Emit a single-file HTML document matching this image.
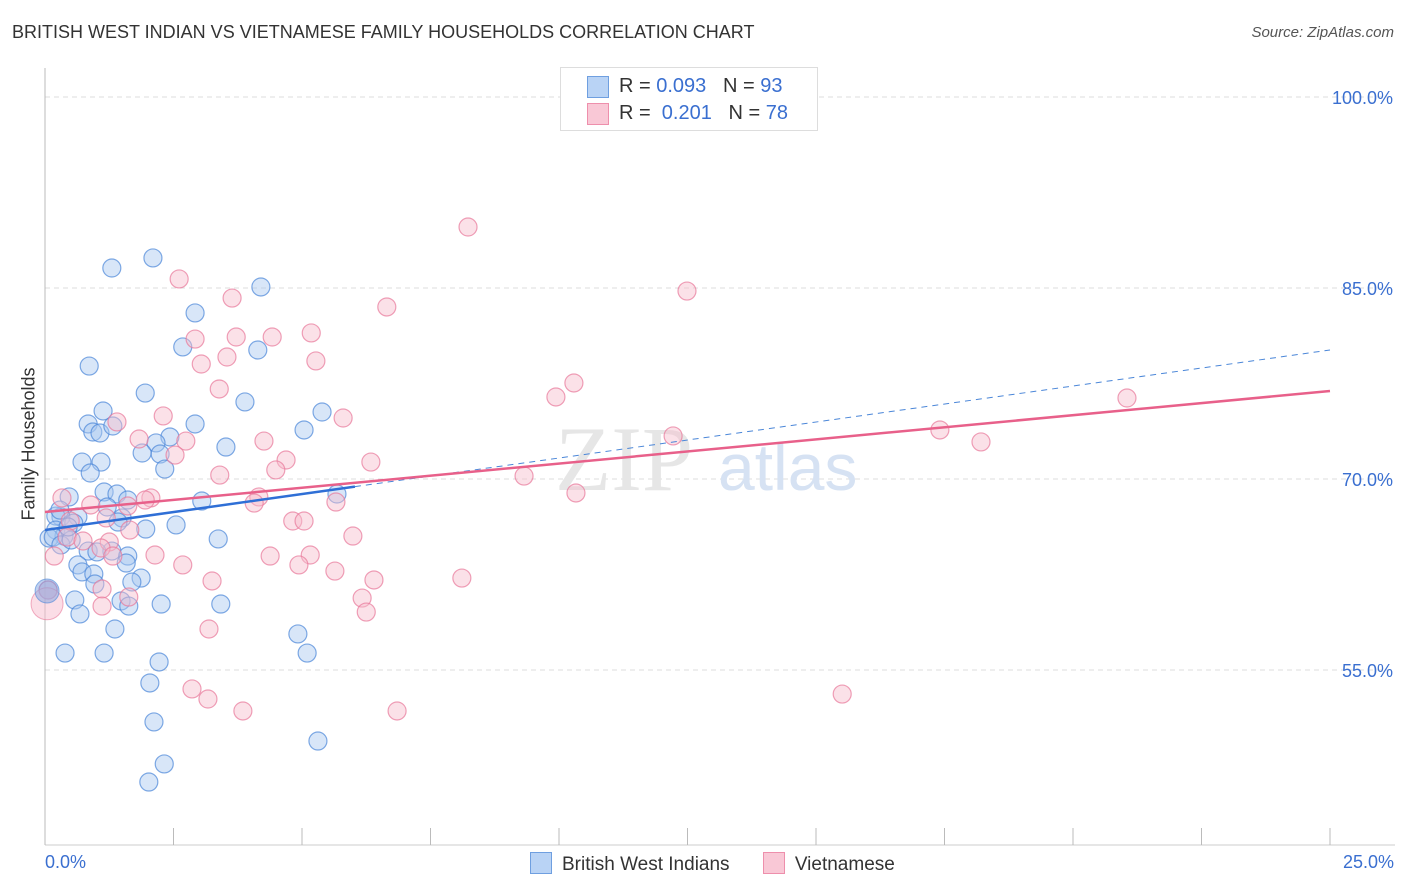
<!DOCTYPE html>
<html><head><meta charset="utf-8"><style>
body{margin:0;background:#fff;font-family:"Liberation Sans",sans-serif}
#wrap{position:relative;width:1406px;height:892px;overflow:hidden}
.t{position:absolute;white-space:nowrap}
</style></head><body>
<div id="wrap">
<div class="t" style="left:12px;top:22px;font-size:18px;color:#333">BRITISH WEST INDIAN VS VIETNAMESE FAMILY HOUSEHOLDS CORRELATION CHART</div>
<div class="t" style="right:12px;top:24px;font-size:15px;color:#555;font-style:italic">Source: ZipAtlas.com</div>
<div class="t" style="left:-36px;top:445px;font-size:18px;color:#333;transform:rotate(-90deg);transform-origin:center;width:130px;text-align:center">Family Households</div>
<svg id="plot" width="1406" height="892" style="position:absolute;left:0;top:0"></svg>
</div>
<script>
const xTicks=[0,2.5,5,7.5,10,12.5,15,17.5,20,22.5,25];
const yTicks=[55,70,85,100];
const yTickLabels=["55.0%","70.0%","85.0%","100.0%"];
const blueX=[1.30,2.10,4.20,2.92,2.68,4.14,0.86,1.95,3.89,1.13,5.39,0.84,2.92,5.04,0.93,1.07,1.32,2.43,2.16,3.52,1.89,2.24,0.72,1.09,2.33,0.88,0.47,1.15,1.40,5.68,1.61,3.05,1.21,1.50,0.31,0.64,0.21,0.56,1.42,1.96,2.55,0.21,0.37,0.08,0.16,3.37,0.31,0.84,1.30,1.61,1.01,0.64,0.72,1.58,0.95,1.87,1.69,0.97,0.06,0.58,1.48,1.63,2.26,3.42,0.68,1.36,4.92,0.39,1.15,5.10,2.22,2.04,2.12,5.31,2.32,2.02,0.51,0.45,0.29];
const blueY=[86.57,87.36,85.08,83.04,80.37,80.13,78.87,76.75,76.05,75.34,75.26,74.32,74.32,73.85,73.69,73.61,74.16,73.30,72.83,72.51,72.04,71.96,71.33,71.33,70.78,70.47,68.59,68.98,68.82,68.82,68.35,68.27,67.80,66.94,67.02,67.02,67.09,66.54,66.62,66.07,66.39,65.99,65.52,65.36,65.44,65.29,64.82,64.34,64.34,63.95,64.27,63.25,62.70,63.40,62.54,62.22,61.91,61.75,61.28,60.50,60.42,60.02,60.18,60.18,59.40,58.22,57.83,56.33,56.33,56.33,55.63,53.98,50.92,49.42,47.62,46.20,65.21,66.23,67.56];
const pinkX=[8.23,2.61,12.49,3.64,6.65,2.92,3.72,4.42,5.18,3.04,3.54,5.27,10.29,3.39,9.94,21.05,1.40,2.30,5.80,4.26,2.74,17.41,18.21,12.22,1.83,2.53,6.34,4.69,3.40,4.49,9.32,10.33,4.16,2.06,4.07,5.66,1.95,0.89,0.33,1.61,4.82,5.04,1.19,0.49,1.65,5.99,0.43,0.74,1.25,1.09,2.14,4.38,5.16,1.32,2.68,4.94,5.64,8.11,6.40,3.25,0.06,1.11,1.63,6.17,6.25,1.11,3.19,2.86,15.51,3.17,3.85,6.85,0.18];
const pinkY=[89.79,85.71,84.76,84.21,83.51,80.99,81.15,81.15,81.47,79.03,79.58,79.27,77.54,77.07,76.44,76.36,74.48,74.95,74.79,72.98,72.98,73.85,72.91,73.38,73.14,71.88,71.33,71.49,70.31,70.71,70.23,68.90,68.59,68.51,68.11,68.19,68.35,67.96,68.51,67.88,66.70,66.70,66.94,66.70,65.99,65.52,65.44,65.13,65.05,64.58,64.03,63.95,64.03,63.95,63.25,63.25,62.77,62.22,62.07,61.99,61.28,61.36,60.73,60.65,59.55,60.02,58.22,53.51,53.11,52.72,51.78,51.78,63.95];
const blueTrend=[65.99,80.13];
const pinkTrend=[67.41,76.91];
const blueSolidEnd=6.03;
const X0=45,X1=1330,Y100=97,PXPER=12.733;
const sx=v=>X0+(X1-X0)*v/25;
const sy=v=>Y100+(100-v)*PXPER;
const svg=document.getElementById('plot');
const NS='http://www.w3.org/2000/svg';
function mk(tag,attrs){const e=document.createElementNS(NS,tag);for(const k in attrs)e.setAttribute(k,attrs[k]);svg.appendChild(e);return e;}
// gridlines
yTicks.forEach((t,i)=>{
 const g=mk('line',{x1:X0,x2:1395,y1:sy(t),y2:sy(t),stroke:'#ddd','stroke-dasharray':'5,4'});
 
 
 const tx=mk('text',{x:1393,y:sy(t)+7,'text-anchor':'end','font-size':18,fill:'#3a6fd0','font-family':'Liberation Sans, sans-serif'});
 tx.textContent=yTickLabels[i];
 
 
});
const ax=mk('line',{x1:X0,x2:X0,y1:68,y2:845,stroke:'#bbb'});


const bx=mk('line',{x1:X0,x2:1395,y1:845,y2:845,stroke:'#ccc'});


xTicks.forEach(t=>{
 const l=mk('line',{x1:sx(t),x2:sx(t),y1:828,y2:845,stroke:'#bbb'});
 
 
});
// watermark
const wm=mk('text',{x:555,y:490,'font-size':92,fill:'#e6e6e6','font-family':'Liberation Serif, serif'});wm.textContent='ZIP';


const wm2=mk('text',{x:718,y:490,'font-size':66,fill:'#d6e2f3','font-family':'Liberation Sans, sans-serif'});wm2.textContent='atlas';


function pts(xs,ys,fill,stroke,name){
 xs.forEach((v,i)=>{const c=mk('circle',{cx:sx(v),cy:sy(ys[i]),r:9,fill:fill,'fill-opacity':0.45,stroke:stroke,'stroke-opacity':0.7,'stroke-width':1.2});
 
 });
}
pts(blueX,blueY,'#a9c8f0','#4a86d8','blue-point');
pts(pinkX,pinkY,'#f7bccd','#e8789a','pink-point');
const bb=mk('circle',{cx:sx(0.04),cy:sy(60.2),r:16,fill:'#f7bccd','fill-opacity':0.5,stroke:'#e8789a','stroke-opacity':0.6});


const bl=mk('circle',{cx:sx(0.04),cy:sy(61.2),r:12,fill:'#8aa8e0','fill-opacity':0.55,stroke:'#4a86d8','stroke-opacity':0.6});


const bt=v=>blueTrend[0]+(blueTrend[1]-blueTrend[0])*v/25;
const pt=v=>pinkTrend[0]+(pinkTrend[1]-pinkTrend[0])*v/25;
const l1=mk('line',{x1:sx(blueSolidEnd),y1:sy(bt(blueSolidEnd)),x2:sx(25),y2:sy(bt(25)),stroke:'#4a86d8','stroke-width':1,'stroke-dasharray':'6,5'});


const l2=mk('line',{x1:sx(0),y1:sy(pt(0)),x2:sx(25),y2:sy(pt(25)),stroke:'#e8608a','stroke-width':2.5});


const l3=mk('line',{x1:sx(0),y1:sy(bt(0)),x2:sx(blueSolidEnd),y2:sy(bt(blueSolidEnd)),stroke:'#2f6fd6','stroke-width':2.5});


</script>
<div class="t" style="left:45px;top:852px;font-size:18px;color:#3a6fd0">0.0%</div>
<div class="t" style="right:12px;top:852px;font-size:18px;color:#3a6fd0">25.0%</div>
<div style="position:absolute;left:560px;top:67px;width:256px;height:62px;border:1px solid #ddd;background:#fff;font-size:20px;color:#333">
 <div style="position:absolute;left:26px;top:8px;width:20px;height:20px;background:#b9d3f5;border:1px solid #6f9fe0"></div>
 <div class="t" style="left:58px;top:7px">R = <span style="color:#3a6fd0">0.093</span>&nbsp;&nbsp;&nbsp;N = <span style="color:#3a6fd0">93</span></div>
 <div style="position:absolute;left:26px;top:35px;width:20px;height:20px;background:#f9c8d6;border:1px solid #ee8fac"></div>
 <div class="t" style="left:58px;top:34px">R = &nbsp;<span style="color:#3a6fd0">0.201</span>&nbsp;&nbsp;&nbsp;N = <span style="color:#3a6fd0">78</span></div>
</div>
<div style="position:absolute;left:530px;top:852px;font-size:19px;color:#333;white-space:nowrap">
 <span><span style="display:inline-block;width:20px;height:20px;background:#b9d3f5;border:1px solid #6f9fe0;vertical-align:-4px;margin-right:10px"></span>British West Indians</span>
 <span style="margin-left:28px"><span style="display:inline-block;width:20px;height:20px;background:#f9c8d6;border:1px solid #ee8fac;vertical-align:-4px;margin-right:10px"></span>Vietnamese</span>
</div>
</body></html>
